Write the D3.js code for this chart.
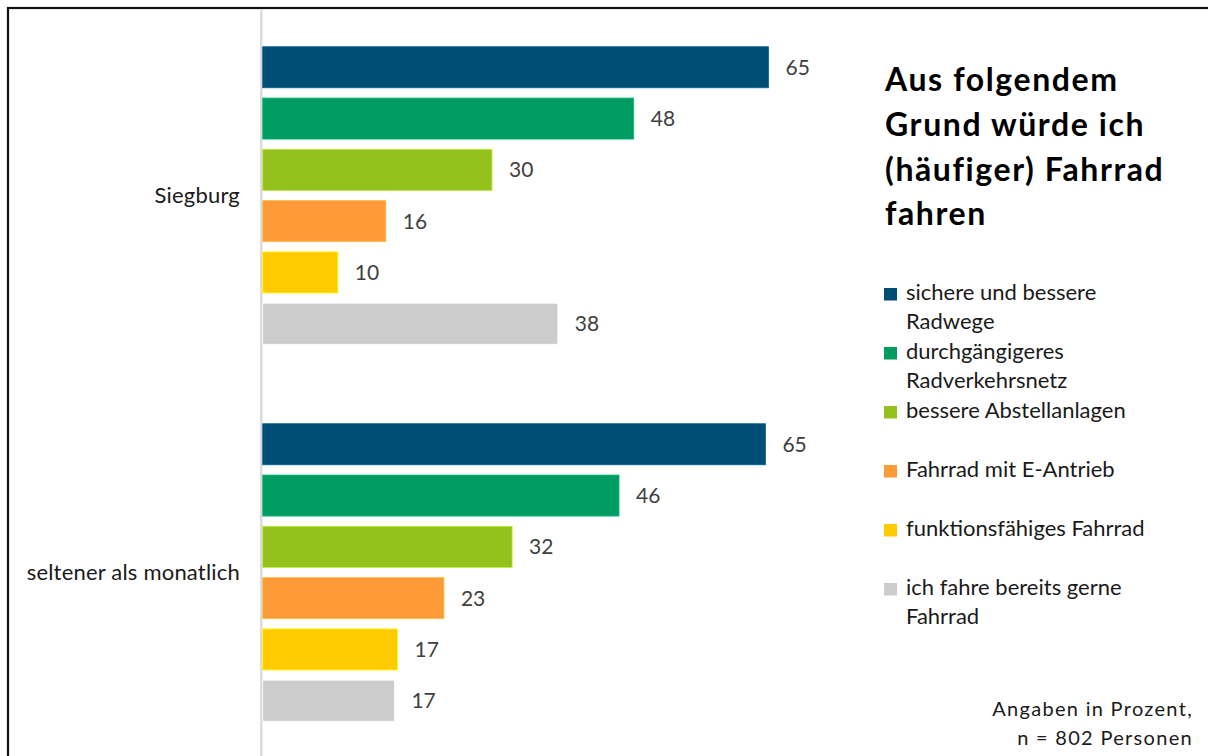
<!DOCTYPE html>
<html>
<head>
<meta charset="utf-8">
<script src="https://cdn.jsdelivr.net/npm/d3@7"></script>
<style>
  body { margin: 0; background: #fff; }
  svg { display: block; font-family: Lato, "Open Sans", sans-serif; }
</style>
</head>
<body>
<svg id="chart" width="1208" height="756"></svg>
<script>
// groups on the category axis (top to bottom)
const categories = ['Siegburg', 'seltener als monatlich'];

// series names, "\n" marks the legend line break
const series = [
  'sichere und bessere\nRadwege',
  'durchgängigeres\nRadverkehrsnetz',
  'bessere Abstellanlagen',
  'Fahrrad mit E-Antrieb',
  'funktionsfähiges Fahrrad',
  'ich fahre bereits gerne\nFahrrad'
];

const colors = ['#004e75', '#009a63', '#95c11f', '#fe9a37', '#ffca00', '#cccccc'];

// values, per category in series order
const siegburgValues = [65.3, 47.9, 29.6, 15.9, 9.7, 38.1];
const seltenValues = [64.9, 46.0, 32.2, 23.4, 17.4, 17.0];
const values = [siegburgValues, seltenValues];

const titleLines = ['Aus folgendem', 'Grund würde ich', '(häufiger) Fahrrad', 'fahren'];
const noteLines = ['Angaben in Prozent,', 'n = 802 Personen'];

const svg = d3.select('#chart');

// frame
svg.append('rect')
  .attr('x', 8).attr('y', 8)
  .attr('width', 1240).attr('height', 800)
  .attr('fill', 'none').attr('stroke', '#111').attr('stroke-width', 2.2);

const x = d3.scaleLinear().domain([0, 70]).range([262.7, 804.9]);
const y0 = d3.scaleBand().domain(categories).range([7, 761]);
const y1 = d3.scaleBand().domain(d3.range(series.length))
  .range([0, y0.bandwidth()]).paddingInner(0.2).paddingOuter(0.775);

// category axis line
svg.append('line')
  .attr('x1', 261.3).attr('x2', 261.3)
  .attr('y1', 10).attr('y2', 756)
  .attr('stroke', '#d9d9d9').attr('stroke-width', 2.3);

const groups = svg.append('g').selectAll('g').data(categories).join('g')
  .attr('transform', d => `translate(0,${y0(d)})`);

groups.selectAll('rect').data((d, i) => values[i]).join('rect')
  .attr('x', x(0))
  .attr('y', (d, i) => y1(i))
  .attr('width', d => x(d) - x(0))
  .attr('height', y1.bandwidth())
  .attr('fill', (d, i) => colors[i])
  .attr('stroke', (d, i) => d3.color(colors[i]).brighter(0.6))
  .attr('stroke-width', 0.8);

groups.selectAll('text').data((d, i) => values[i]).join('text')
  .attr('x', d => x(d) + 17)
  .attr('y', (d, i) => y1(i) + y1.bandwidth() / 2 + 7.5)
  .attr('fill', '#404040')
  .attr('font-size', '21px')
  .text(d => Math.round(d));

// category labels
svg.append('g').selectAll('text').data(categories).join('text')
  .attr('x', 240)
  .attr('y', d => y0(d) + y0.bandwidth() / 2 + 7.5)
  .attr('text-anchor', 'end')
  .attr('fill', '#1a1a1a')
  .attr('font-size', '22px')
  .attr('letter-spacing', 0.2)
  .text(d => d);

// title
svg.append('g').selectAll('text').data(titleLines).join('text')
  .attr('x', 885)
  .attr('y', (d, i) => 91 + i * 44.8)
  .attr('font-weight', 'bold')
  .attr('font-size', '32px')
  .attr('letter-spacing', 1.6)
  .attr('fill', '#000')
  .text(d => d);

// legend
const legend = svg.append('g').selectAll('g').data(series).join('g')
  .attr('transform', (d, i) => `translate(884,${300 + i * 59})`);

legend.append('rect')
  .attr('x', 0).attr('y', -12)
  .attr('width', 13).attr('height', 12.5)
  .attr('fill', (d, i) => colors[i]);

legend.append('text')
  .attr('fill', '#1a1a1a')
  .attr('font-size', '22px')
  .selectAll('tspan').data(d => d.split('\n')).join('tspan')
  .attr('x', 22)
  .attr('y', (d, i) => i * 29)
  .text(d => d);

// note
svg.append('g').selectAll('text').data(noteLines).join('text')
  .attr('x', 1193)
  .attr('y', (d, i) => 716 + i * 29)
  .attr('text-anchor', 'end')
  .attr('fill', '#1a1a1a')
  .attr('font-size', '20px')
  .attr('letter-spacing', 1.3)
  .text(d => d);
</script>
</body>
</html>
